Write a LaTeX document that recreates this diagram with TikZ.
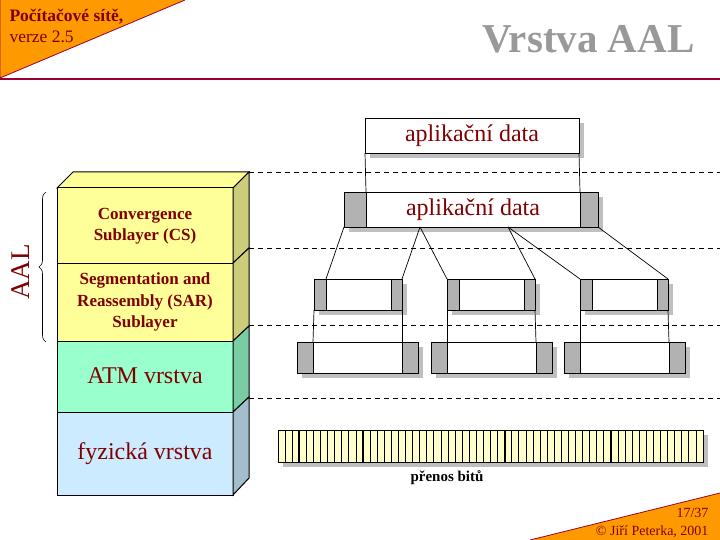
\documentclass[tikz,border=0pt]{standalone}
\usepackage{fontspec}
\setmainfont{Liberation Serif}
\usepackage{tikz}
\usetikzlibrary{positioning}
\usetikzlibrary{calc}
\usetikzlibrary{decorations.pathreplacing}
\usepackage{xcolor}

\definecolor{orng}{HTML}{FF9900}
\definecolor{mrn}{HTML}{990033}
\definecolor{txtred}{HTML}{800000}
\definecolor{ylwfront}{HTML}{FFFF99}
\definecolor{ylwside}{HTML}{CCCC7A}
\definecolor{grnfront}{HTML}{99FFCC}
\definecolor{grnside}{HTML}{7ACCA3}
\definecolor{blufront}{HTML}{CCEBFF}
\definecolor{bluside}{HTML}{A3BDCC}
\definecolor{bitfill}{HTML}{FFFFCC}
\definecolor{titlegray}{HTML}{999999}

\tikzset{
  box/.style={draw=black, line width=0.9pt, inner sep=0pt, outer sep=0pt, anchor=north west},
  payload/.style={box, fill=white},
  hdr/.style={box, fill=gray!60},
  shade/.style={fill=gray!50},
  layer/.style={draw=black, line width=1pt},
  guide/.style={line width=0.8pt, dash pattern=on 5pt off 4pt},
  wire/.style={line width=0.7pt},
  layertext/.style={text=txtred, align=center, font=\fontsize{17}{21.5}\selectfont\bfseries},
  bigtext/.style={text=txtred, font=\fontsize{24}{26}\selectfont},
}

\begin{document}
\begin{tikzpicture}[x=1pt,y=-1pt]

\useasboundingbox (0,0) rectangle (720,540);
\fill[white] (0,0) rectangle (720,540);

% header and footer
\fill[orng] (0,0) -- (185,0) -- (0,78) -- cycle;
\draw[mrn, line width=0.8pt] (185,0) -- (0,78) -- (0,0);
\draw[mrn, line width=2pt] (0,79) -- (720,79);
\node[anchor=base west, text=txtred, font=\fontsize{17.5}{20}\selectfont\bfseries] (course) at (6,22) {Počítačové sítě,};
\node[anchor=base west, text=txtred, font=\fontsize{17.5}{20}\selectfont] (version) at (6,43) {verze 2.5};
\node[anchor=base east, text=titlegray, font=\fontsize{41}{44}\selectfont\bfseries] (title) at (698,53) {Vrstva AAL};

\fill[orng] (720,493) -- (720,540) -- (530,540) -- cycle;
\draw[mrn, line width=0.8pt] (530,540) -- (720,493);
\node[anchor=base east, text=txtred, font=\fontsize{14}{16}\selectfont] (page) at (712,517) {17/37};
\node[anchor=base east, text=txtred, font=\fontsize{14}{16}\selectfont] (author) at (712,535) {© Jiří Peterka, 2001};

% layer stack
\filldraw[layer, fill=ylwfront] (57,188) -- (73,172) -- (249,172) -- (233,188) -- cycle;
\filldraw[layer, fill=ylwfront] (57,188) rectangle (233,263);
\filldraw[layer, fill=ylwside]  (233,188) -- (249,172) -- (249,248) -- (233,263) -- cycle;
\filldraw[layer, fill=ylwfront] (57,263) rectangle (233,341);
\filldraw[layer, fill=ylwside]  (233,263) -- (249,248) -- (249,326) -- (233,341) -- cycle;
\filldraw[layer, fill=grnfront] (57,341) rectangle (233,412);
\filldraw[layer, fill=grnside]  (233,341) -- (249,326) -- (249,397) -- (233,412) -- cycle;
\filldraw[layer, fill=blufront] (57,412) rectangle (233,495);
\filldraw[layer, fill=bluside]  (233,412) -- (249,397) -- (249,478) -- (233,495) -- cycle;

\node[layertext] (cs)  at (145,226) {Convergence\\Sublayer (CS)};
\node[layertext] (sar) at (145,302) {Segmentation and\\Reassembly (SAR)\\Sublayer};
\node[bigtext]   (atm) at (145,376) {ATM vrstva};
\node[bigtext]   (phy) at (145,454) {fyzická vrstva};

\draw[decorate, decoration={brace, amplitude=7pt}, line width=0.6pt] (46,342) -- (46,192);
\node[rotate=90, text=txtred, font=\fontsize{27}{30}\selectfont] (aal) at (21,272) {AAL};

% dashed guides
\coordinate (g1) at (249,172);
\coordinate (g2) at (249,248);
\coordinate (g3) at (249,325);
\coordinate (g4) at (249,398);
\coordinate (redge) at (720,0);
\foreach \g in {g1,g2,g3,g4}
  \draw[guide] (\g) -- (\g -| redge);

% application data
\fill[shade] (370,123) rectangle (584,158);
\node[payload, minimum width=214pt, minimum height=35pt, bigtext] (app) at (365,118) {aplikační data};

% CS PDU
\fill[shade] (349,197) rectangle (603,232);
\node[hdr, minimum width=22pt, minimum height=35pt] (cshdr) at (344,192) {};
\node[payload, minimum width=214pt, minimum height=35pt, right=0pt of cshdr, bigtext] (cspay) {aplikační data};
\node[hdr, minimum width=18pt, minimum height=35pt, right=0pt of cspay] (cstrl) {};

% SAR segments
\foreach \i/\x in {1/314, 2/447, 3/580} {
  \fill[shade] (\x+5,284) rectangle (\x+93,315);
  \node[hdr, minimum width=12pt, minimum height=31pt] (sh\i) at (\x,279) {};
  \node[payload, minimum width=65pt, minimum height=31pt, right=0pt of sh\i] (sp\i) {};
  \node[hdr, minimum width=11pt, minimum height=31pt, right=0pt of sp\i] (st\i) {};
}

% ATM cells
\foreach \i/\x in {1/297, 2/431, 3/564} {
  \fill[shade] (\x+5,347) rectangle (\x+126,378);
  \node[hdr, minimum width=16pt, minimum height=31pt] (ch\i) at (\x,342) {};
  \node[payload, minimum width=89pt, minimum height=31pt, right=0pt of ch\i] (cp\i) {};
  \node[hdr, minimum width=16pt, minimum height=31pt, right=0pt of cp\i] (ct\i) {};
}

% connectors
\draw[wire] (app.south west) -- (cspay.north west);
\draw[wire] (app.south east) -- (cspay.north east);
\coordinate (splitA) at (420,227);
\coordinate (splitB) at (508,227);
\draw[wire] (cshdr.south west) -- (sp1.north west);
\draw[wire] (splitA) -- (st1.north east);
\draw[wire] (splitA) -- (sh2.north west);
\draw[wire] (splitB) -- (st2.north east);
\draw[wire] (splitB) -- (sh3.north west);
\draw[wire] (cstrl.south east) -- (st3.north east);
\foreach \i in {1,2,3} {
  \draw[wire] (sh\i.south west) -- (cp\i.north west);
  \draw[wire] (st\i.south east) -- (cp\i.north east);
}

% bit stream
\fill[shade] (283,435) rectangle (708,467);
\node[box, fill=bitfill, minimum width=425pt, minimum height=32pt] (bits) at (278,430) {};
\foreach \k in {1,...,59}
  \draw[line width=0.7pt] ($(bits.north west)!\k/60!(bits.north east)$) -- ($(bits.south west)!\k/60!(bits.south east)$);
\foreach \k in {3,12,32,47}
  \draw[line width=2pt] ($(bits.north west)!\k/60!(bits.north east)$) -- ($(bits.south west)!\k/60!(bits.south east)$);
\node[box, line width=1pt, minimum width=425pt, minimum height=32pt] (bitframe) at (278,430) {};
\node[anchor=base, font=\fontsize{15}{18}\selectfont\bfseries] (bitlbl) at (447,481) {přenos bitů};

\end{tikzpicture}
\end{document}
